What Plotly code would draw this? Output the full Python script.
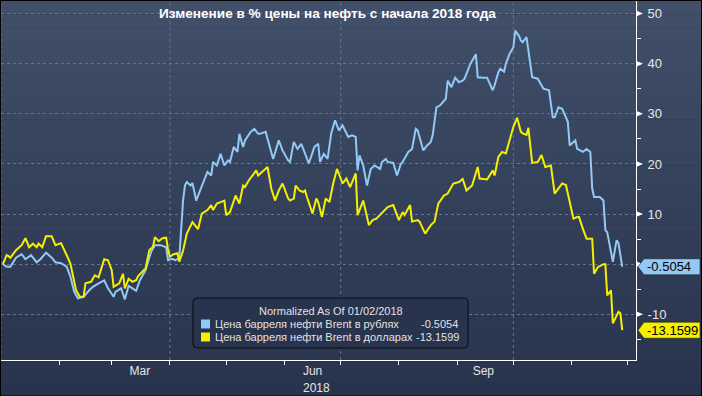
import plotly.graph_objects as go

# ---------------- data ----------------
rub_dates = ["2018-01-02","2018-01-04","2018-01-06","2018-01-09","2018-01-12","2018-01-14","2018-01-17","2018-01-20","2018-01-22","2018-01-25",
             "2018-01-28","2018-01-30","2018-02-02","2018-02-05","2018-02-07","2018-02-09","2018-02-11","2018-02-14","2018-02-17","2018-02-19",
             "2018-02-22","2018-02-25","2018-02-27","2018-03-02","2018-03-03","2018-03-06","2018-03-08","2018-03-10","2018-03-12","2018-03-14",
             "2018-03-16","2018-03-19","2018-03-22","2018-03-24","2018-03-27","2018-03-30","2018-03-31","2018-04-02","2018-04-04","2018-04-06",
             "2018-04-08","2018-04-09","2018-04-10","2018-04-12","2018-04-13","2018-04-15","2018-04-16","2018-04-18","2018-04-21","2018-04-23",
             "2018-04-24","2018-04-26","2018-04-28","2018-04-30","2018-05-02","2018-05-03","2018-05-05","2018-05-07","2018-05-08","2018-05-10",
             "2018-05-11","2018-05-14","2018-05-16","2018-05-18","2018-05-19","2018-05-22","2018-05-24","2018-05-26","2018-05-29","2018-05-31",
             "2018-06-03","2018-06-04","2018-06-06","2018-06-08","2018-06-10","2018-06-11","2018-06-13","2018-06-14","2018-06-17","2018-06-19",
             "2018-06-20","2018-06-22","2018-06-24","2018-06-26","2018-06-28","2018-06-30","2018-07-02","2018-07-05","2018-07-07","2018-07-09",
             "2018-07-10","2018-07-11","2018-07-13","2018-07-15","2018-07-17","2018-07-19","2018-07-22","2018-07-23","2018-07-25","2018-07-26",
             "2018-07-29","2018-07-31","2018-08-02","2018-08-03","2018-08-06","2018-08-08","2018-08-10","2018-08-11","2018-08-14","2018-08-16",
             "2018-08-18","2018-08-19","2018-08-21","2018-08-23","2018-08-26","2018-08-27","2018-08-29","2018-08-31","2018-09-02","2018-09-04",
             "2018-09-05","2018-09-08","2018-09-11","2018-09-12","2018-09-15","2018-09-17","2018-09-20","2018-09-21","2018-09-23","2018-09-24",
             "2018-09-26","2018-09-27","2018-09-29","2018-10-01","2018-10-02","2018-10-04","2018-10-05","2018-10-06","2018-10-08","2018-10-09",
             "2018-10-11","2018-10-14","2018-10-17","2018-10-20","2018-10-22","2018-10-23","2018-10-25","2018-10-27","2018-10-30","2018-10-31",
             "2018-11-03","2018-11-04","2018-11-07","2018-11-09","2018-11-11","2018-11-12","2018-11-13","2018-11-16","2018-11-18","2018-11-19",
             "2018-11-20","2018-11-23","2018-11-25","2018-11-26","2018-11-28"]
rub_values = [0.0,-0.5,-0.5,1.3,2.0,1.0,1.8,0.4,1.0,2.3,
              1.3,0.4,0.2,-0.5,-2.5,-5.5,-6.8,-6.5,-5.2,-4.5,
              -3.8,-3.2,-4.8,-6.5,-5.5,-4.8,-7.0,-4.3,-4.8,-5.3,
              -3.2,-1.2,2.5,3.8,3.8,3.4,0.8,1.1,0.8,1.3,
              12.7,15.7,16.4,15.7,16.2,12.7,13.7,15.7,18.4,17.7,
              20.4,19.7,22.0,19.7,20.7,20.4,23.4,22.4,26.0,23.4,
              24.7,26.4,27.0,26.0,26.0,26.4,23.4,21.0,24.7,22.7,
              20.7,20.4,24.4,23.0,24.0,23.0,21.4,20.1,23.4,24.0,
              20.4,22.0,21.0,26.2,28.7,26.7,27.7,25.4,25.7,25.4,
              18.7,21.7,19.7,15.7,19.0,19.7,19.0,20.4,21.0,20.4,
              20.2,17.7,20.0,20.4,22.4,23.0,27.0,26.7,22.7,23.7,
              24.4,25.7,31.3,31.7,33.0,36.6,35.3,37.2,36.3,36.6,
              37.0,39.9,41.9,37.3,37.2,37.2,34.7,35.7,38.3,39.0,
              38.4,40.0,42.0,43.3,46.6,45.5,44.6,44.3,45.3,42.6,
              37.3,37.0,35.0,34.7,29.3,29.3,31.3,31.0,28.4,23.7,
              24.7,23.0,22.4,23.0,22.4,15.1,13.4,13.4,12.7,6.8,
              6.4,0.5,4.8,4.2,-0.5054]

usd_dates = ["2018-01-02","2018-01-04","2018-01-05","2018-01-06","2018-01-09","2018-01-12","2018-01-14","2018-01-16","2018-01-18","2018-01-20",
             "2018-01-21","2018-01-23","2018-01-25","2018-01-28","2018-01-30","2018-02-02","2018-02-05","2018-02-07","2018-02-10","2018-02-12",
             "2018-02-14","2018-02-15","2018-02-18","2018-02-20","2018-02-22","2018-02-23","2018-02-25","2018-02-27","2018-03-01","2018-03-02",
             "2018-03-05","2018-03-07","2018-03-08","2018-03-10","2018-03-12","2018-03-14","2018-03-15","2018-03-18","2018-03-19","2018-03-21",
             "2018-03-23","2018-03-24","2018-03-26","2018-03-28","2018-03-30","2018-03-31","2018-04-01","2018-04-03","2018-04-05","2018-04-06",
             "2018-04-08","2018-04-10","2018-04-13","2018-04-16","2018-04-18","2018-04-21","2018-04-23","2018-04-24","2018-04-26","2018-04-28",
             "2018-04-30","2018-05-01","2018-05-03","2018-05-06","2018-05-08","2018-05-10","2018-05-11","2018-05-13","2018-05-15","2018-05-17",
             "2018-05-18","2018-05-20","2018-05-23","2018-05-25","2018-05-27","2018-05-29","2018-05-31","2018-06-03","2018-06-04","2018-06-06",
             "2018-06-07","2018-06-09","2018-06-11","2018-06-12","2018-06-13","2018-06-16","2018-06-18","2018-06-19","2018-06-21","2018-06-23",
             "2018-06-25","2018-06-27","2018-06-29","2018-07-02","2018-07-04","2018-07-06","2018-07-09","2018-07-10","2018-07-13","2018-07-16",
             "2018-07-18","2018-07-20","2018-07-22","2018-07-26","2018-07-29","2018-08-01","2018-08-03","2018-08-04","2018-08-07","2018-08-08",
             "2018-08-11","2018-08-12","2018-08-15","2018-08-18","2018-08-20","2018-08-22","2018-08-25","2018-08-27","2018-08-30","2018-09-02",
             "2018-09-04","2018-09-06","2018-09-09","2018-09-12","2018-09-13","2018-09-17","2018-09-20","2018-09-21","2018-09-23","2018-09-25",
             "2018-09-27","2018-09-29","2018-10-01","2018-10-03","2018-10-05","2018-10-06","2018-10-08","2018-10-09","2018-10-11","2018-10-14",
             "2018-10-16","2018-10-18","2018-10-21","2018-10-23","2018-10-25","2018-10-27","2018-10-29","2018-10-31","2018-11-02","2018-11-04",
             "2018-11-05","2018-11-07","2018-11-09","2018-11-12","2018-11-13","2018-11-15","2018-11-18","2018-11-19","2018-11-20","2018-11-22",
             "2018-11-23","2018-11-26","2018-11-27","2018-11-28"]
usd_values = [0.0,1.8,1.6,1.3,2.8,3.8,5.2,3.4,4.1,3.4,
              4.1,3.4,5.6,5.6,3.8,4.2,1.8,0.1,-5.2,-6.5,
              -6.5,-3.8,-3.5,-2.2,-2.6,-1.5,1.0,0.8,-1.2,-4.5,
              -3.8,-1.9,-4.8,-2.9,-3.5,-3.2,-2.4,-1.2,-0.9,2.8,
              3.5,5.4,4.6,5.2,5.3,3.0,1.5,2.0,2.2,0.5,
              2.7,6.1,8.4,7.0,10.1,10.8,11.8,10.8,12.1,12.4,
              12.7,9.8,10.4,13.7,12.1,15.7,15.4,16.7,17.7,18.7,
              17.7,18.4,19.4,15.1,12.7,14.7,16.1,13.1,12.7,13.1,
              15.7,14.7,14.4,14.7,13.4,10.1,13.1,12.4,9.4,13.1,
              12.4,16.1,19.0,16.1,17.1,15.4,18.1,9.8,12.7,7.8,
              8.8,9.1,9.8,11.4,11.8,8.8,10.4,9.8,11.8,8.5,
              8.8,8.5,6.1,7.8,8.5,12.1,13.7,14.1,16.1,16.4,
              17.0,14.7,15.7,19.4,17.1,16.9,18.7,17.7,21.4,22.4,
              22.1,24.7,27.4,29.2,26.4,26.1,25.8,27.2,20.2,20.4,
              21.8,19.4,19.7,14.1,15.1,16.1,15.8,12.7,9.1,9.4,
              9.4,7.1,5.1,5.1,-1.9,-0.6,0.0,0.0,-6.2,-5.2,
              -11.8,-9.5,-9.8,-13.1599]

series_names = ["Цена барреля нефти Brent в рублях", "Цена барреля нефти Brent в долларах"]
title_text = "Изменение в % цены на нефть с начала 2018 года"
legend_title = "Normalized As Of 01/02/2018"

y_tickvals = [-10, 0, 10, 20, 30, 40, 50]
y_ticktext = ["-10", "", "10", "20", "30", "40", "50"]   # "0" is hidden behind the value flag
x_label_dates = ["2018-03-16", "2018-06-16", "2018-09-15"]
x_label_text = ["Mar", "Jun", "Sep"]
month_starts = ["2018-02-01","2018-03-01","2018-04-01","2018-05-01","2018-06-01","2018-07-01",
                "2018-08-01","2018-09-01","2018-10-01","2018-11-01","2018-12-01"]
quarter_starts = ["2018-01-01", "2018-04-01", "2018-07-01", "2018-10-01"]
year_label = "2018"

# ---------------- style ----------------
BLUE = "#93c9f5"
YELLOW = "#f4f000"
FONT = "Liberation Sans, Arial, sans-serif"
W, H = 702, 396
ML, MR, MT, MB = 1, 66, 1, 36
PW = W - ML - MR
PH = H - MT - MB

def px_x(p):  # figure pixel -> paper x
    return (p - ML) / PW

def px_y(p):  # figure pixel (from top) -> paper y
    return (H - MB - p) / PH

fig = go.Figure()
fig.add_trace(go.Scatter(x=rub_dates, y=rub_values, mode="lines", name=series_names[0],
                         line=dict(color=BLUE, width=2), showlegend=False))
fig.add_trace(go.Scatter(x=usd_dates, y=usd_values, mode="lines", name=series_names[1],
                         line=dict(color=YELLOW, width=2), showlegend=False))

shapes = []
# background gradient (whole figure)
top = (65, 79, 106)
bot = (40, 51, 76)
n = 60
for i in range(n):
    t = i / (n - 1)
    c = tuple(int(round(top[k] + (bot[k] - top[k]) * t)) for k in range(3))
    y0 = 1 + (H - 2) * i / n
    y1 = 1 + (H - 2) * (i + 1) / n + 0.6
    shapes.append(dict(type="rect", xref="paper", yref="paper", layer="below",
                       x0=px_x(1), x1=px_x(W - 1), y0=px_y(y1), y1=px_y(y0),
                       fillcolor="rgb(%d,%d,%d)" % c, line=dict(width=0)))

# vertical quarter grid lines
for d in quarter_starts:
    shapes.append(dict(type="line", xref="x", yref="paper", x0=d, x1=d, y0=0, y1=1,
                       layer="below", line=dict(color="#66758f", width=1, dash="dot")))

# right-axis major tick triangles
for v in y_tickvals:
    shapes.append(dict(type="path", xref="paper", yref="y", xsizemode="pixel", ysizemode="pixel",
                       xanchor=1, yanchor=v, path="M0,3 L7,0 L0,-3 Z",
                       fillcolor="white", line=dict(width=0)))

# end value labels
annotations = []
for vals, col in [(rub_values, BLUE), (usd_values, YELLOW)]:
    last = vals[-1]
    shapes.append(dict(type="path", xref="paper", yref="y", xsizemode="pixel", ysizemode="pixel",
                       xanchor=1, yanchor=last, path="M2,0 L8,8 L64,8 L64,-8 L8,-8 Z",
                       fillcolor=col, line=dict(color="#111111", width=0.5)))
    annotations.append(dict(xref="paper", yref="y", x=1, y=last, xanchor="left", yanchor="middle",
                            xshift=9, text="%.4f" % last, showarrow=False,
                            font=dict(family=FONT, size=13, color="black")))

# legend box (rounded)
LW, LH, R = 275, 50, 4
legend_path = ("M{r},0 L{a},0 Q{w},0 {w},{r} L{w},{b} Q{w},{h} {a},{h} L{r},{h} Q0,{h} 0,{b} L0,{r} Q0,0 {r},0 Z"
               .format(r=R, a=LW - R, w=LW, b=LH - R, h=LH))
shapes.append(dict(type="path", xref="paper", yref="paper", xsizemode="pixel", ysizemode="pixel",
                   xanchor=px_x(193), yanchor=px_y(348), path=legend_path,
                   fillcolor="#28334d", line=dict(color="#0a0a0a", width=1)))
annotations.append(dict(xref="paper", yref="paper", x=px_x(331), y=px_y(311), text=legend_title,
                        showarrow=False, xanchor="center", yanchor="middle",
                        font=dict(family=FONT, size=11, color="#e2e2e2")))
rows = [(324, BLUE, series_names[0], rub_values[-1], 419),
        (337, YELLOW, series_names[1], usd_values[-1], 414)]
for yy, col, nm, last, vx in rows:
    shapes.append(dict(type="rect", xref="paper", yref="paper", x0=px_x(201), x1=px_x(210),
                       y0=px_y(yy + 4.5), y1=px_y(yy - 4.5), fillcolor=col, line=dict(width=0)))
    annotations.append(dict(xref="paper", yref="paper", x=px_x(213), y=px_y(yy), text=nm,
                            showarrow=False, xanchor="left", yanchor="middle",
                            font=dict(family=FONT, size=11, color="#e2e2e2")))
    annotations.append(dict(xref="paper", yref="paper", x=px_x(vx), y=px_y(yy), text="%.4f" % last,
                            showarrow=False, xanchor="left", yanchor="middle",
                            font=dict(family=FONT, size=11, color="#e2e2e2")))

# title
annotations.append(dict(xref="paper", yref="paper", x=px_x(327), y=px_y(13), text="<b>%s</b>" % title_text,
                        showarrow=False, xanchor="center", yanchor="middle",
                        font=dict(family=FONT, size=13.6, color="white")))
# year label
annotations.append(dict(xref="x", yref="paper", x="2018-06-18", y=0, yanchor="top", yshift=-19,
                        text=year_label, showarrow=False,
                        font=dict(family=FONT, size=12, color="#e6e6e6")))

fig.update_layout(
    width=W, height=H,
    margin=dict(l=ML, r=MR, t=MT, b=MB, pad=0),
    paper_bgcolor="black",
    plot_bgcolor="rgba(0,0,0,0)",
    shapes=shapes,
    annotations=annotations,
    showlegend=False,
    xaxis=dict(
        type="date",
        range=["2018-01-01", "2018-12-05 08:00"],
        tickmode="array", tickvals=x_label_dates, ticktext=x_label_text,
        ticks="", showgrid=False, zeroline=False,
        showline=True, linecolor="white", linewidth=1,
        tickfont=dict(family=FONT, size=12, color="#e6e6e6"),
        minor=dict(tickmode="array", tickvals=month_starts, ticks="outside", ticklen=4,
                   tickcolor="white", tickwidth=1, showgrid=False),
    ),
    yaxis=dict(
        side="right",
        range=[-19.1, 52.5],
        tickmode="array", tickvals=y_tickvals, ticktext=y_ticktext,
        ticks="", ticklabelstandoff=8,
        showgrid=True, gridcolor="#66758f", griddash="dot", gridwidth=1,
        zeroline=False,
        showline=True, linecolor="white", linewidth=1,
        tickfont=dict(family=FONT, size=13, color="#e6e6e6"),
        minor=dict(dtick=5, tick0=0, ticks="outside", ticklen=4, tickcolor="white",
                   tickwidth=1, showgrid=False),
    ),
)

fig.write_html("out.html", config={"displayModeBar": False},
               post_script="document.body.style.margin='0';document.body.style.overflow='hidden';")
